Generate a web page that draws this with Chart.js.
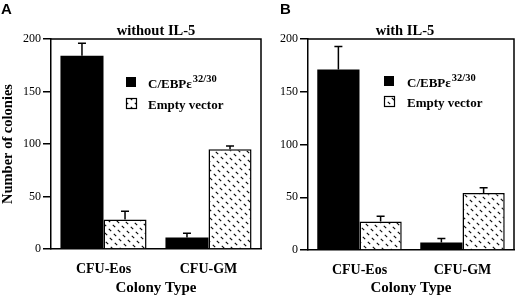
<!DOCTYPE html>
<html>
<head>
<meta charset="utf-8">
<script src="https://cdn.jsdelivr.net/npm/chart.js@4"></script>
<style>
  body { margin: 0; background: #fff; width: 520px; height: 297px; position: relative; overflow: hidden; }
  canvas { position: absolute; top: 0; }
  #chartA { left: 0; }
  #chartB { left: 262px; }
</style>
</head>
<body>
<canvas id="chartA" width="264" height="297"></canvas>
<canvas id="chartB" width="258" height="297"></canvas>
<script>
// data
const categories = ['CFU-Eos', 'CFU-GM'];
const seriesNames = ['C/EBPε32/30', 'Empty vector'];
const yTicks = [0, 50, 100, 150, 200];

// A: without IL-5
const noIL5Cebp = [184, 11];
const noIL5CebpErr = [12, 4];
const noIL5Empty = [28, 95];
const noIL5EmptyErr = [8, 3];

// B: with IL-5
const withIL5Cebp = [171, 7];
const withIL5CebpErr = [22, 4];
const withIL5Empty = [27, 54];
const withIL5EmptyErr = [5, 5];

const serif = "'Liberation Serif', 'Times New Roman', serif";

// short "\" dashes lined up along "/" diagonals
function hatch() {
    const n = 40;
    const c = document.createElement('canvas');
    c.width = n; c.height = n;
    const g = c.getContext('2d');
    g.fillStyle = '#fff';
    g.fillRect(0, 0, n, n);
    g.strokeStyle = '#111';
    g.lineWidth = 1.2;
    g.beginPath();
    for (let m = 0; m < 10; m++) {
        for (let k = 0; k < 4; k++) {
            const x = ((4 * m + 5 * k) % n + n) % n;
            const y = ((-4 * m + 5 * k) % n + n) % n;
            for (const dx of [-n, 0, n]) {
                for (const dy of [-n, 0, n]) {
                    g.moveTo(x + dx - 1.2, y + dy - 1.2);
                    g.lineTo(x + dx + 1.2, y + dy + 1.2);
                }
            }
        }
    }
    g.stroke();
    return g.createPattern(c, 'repeat');
}

// box, error bars, legend, titles
const panelDeco = {
    id: 'panelDeco',
    afterDatasetsDraw(chart) {
        const ctx = chart.ctx;
        const yScale = chart.scales.y;
        ctx.save();
        ctx.strokeStyle = '#000';
        ctx.lineWidth = 1.5;
        chart.data.datasets.forEach((ds, i) => {
            const meta = chart.getDatasetMeta(i);
            meta.data.forEach((bar, j) => {
                const yEnd = yScale.getPixelForValue(ds.data[j] + ds.err[j]);
                ctx.beginPath();
                ctx.moveTo(bar.x, bar.y);
                ctx.lineTo(bar.x, yEnd);
                ctx.moveTo(bar.x - 4, yEnd);
                ctx.lineTo(bar.x + 4, yEnd);
                ctx.stroke();
            });
        });
        ctx.restore();
    },
    afterDraw(chart, args, opts) {
        const ctx = chart.ctx;
        const a = chart.chartArea;
        ctx.save();
        ctx.strokeStyle = '#000';
        ctx.lineWidth = 1.5;
        ctx.beginPath();
        ctx.moveTo(a.left, a.top);
        ctx.lineTo(a.right, a.top);
        ctx.lineTo(a.right, a.bottom);
        ctx.stroke();

        ctx.fillStyle = '#000';
        ctx.font = "bold 15px 'Liberation Sans', Arial, sans-serif";
        ctx.textAlign = 'left';
        ctx.textBaseline = 'alphabetic';
        ctx.fillText(opts.letter, opts.letterX, 14);

        ctx.font = 'bold 14.5px ' + serif;
        ctx.textAlign = 'center';
        ctx.fillText(opts.title, opts.titleX, 35);

        // legend
        const lx = opts.legX, tx = opts.legTextX;
        ctx.fillRect(lx, opts.legY[0], 10, 10);
        ctx.fillStyle = chart.data.datasets[1].backgroundColor;
        ctx.fillRect(lx, opts.legY[1], 10, 10);
        ctx.lineWidth = 1.2;
        ctx.strokeRect(lx + 0.5, opts.legY[1] + 0.5, 10, 10);
        ctx.fillStyle = '#000';
        ctx.textAlign = 'left';
        ctx.font = 'bold 13px ' + serif;
        const main = seriesNames[0].slice(0, 6);
        ctx.fillText(main, tx, opts.legY[0] + 11);
        const w = ctx.measureText(main).width;
        ctx.font = 'bold 10.5px ' + serif;
        ctx.fillText(seriesNames[0].slice(6), tx + w + 1, opts.legY[0] + 5);
        ctx.font = 'bold 13px ' + serif;
        ctx.fillText(seriesNames[1], tx, opts.legY[1] + 10.5);
        ctx.restore();
    }
};

function makePanel(id, cfg) {
    return new Chart(document.getElementById(id), {
        type: 'bar',
        data: {
            labels: categories,
            datasets: [
                {
                    label: seriesNames[0],
                    data: cfg.cebp,
                    err: cfg.cebpErr,
                    backgroundColor: '#000',
                    borderWidth: 0,
                    categoryPercentage: 0.82,
                    barPercentage: 1.0,
                },
                {
                    label: seriesNames[1],
                    data: cfg.empty,
                    err: cfg.emptyErr,
                    backgroundColor: hatch(),
                    borderColor: '#000',
                    borderWidth: 1.5,
                    categoryPercentage: 0.82,
                    barPercentage: 1.0,
                },
            ],
        },
        options: {
            responsive: false,
            animation: false,
            layout: { padding: { top: 39, right: cfg.padRight, left: 0, bottom: 0 } },
            plugins: {
                legend: { display: false },
                tooltip: { enabled: false },
                panelDeco: cfg.deco,
            },
            scales: {
                x: {
                    grid: { display: false },
                    border: { display: true, color: '#000', width: 1.5 },
                    ticks: { color: '#000', padding: 4, font: { family: serif, size: 14, weight: 'bold' } },
                    title: {
                        display: true,
                        text: 'Colony Type',
                        color: '#000',
                        padding: { top: 0, bottom: 0 },
                        font: { family: serif, size: 15, weight: 'bold' },
                    },
                    afterFit(s) { s.height = cfg.xHeight; },
                },
                y: {
                    min: yTicks[0],
                    max: yTicks[yTicks.length - 1],
                    afterBuildTicks(s) { s.ticks = yTicks.map(v => ({ value: v })); },
                    grid: { drawOnChartArea: false, color: '#000', lineWidth: 1.5, tickLength: 8 },
                    border: { color: '#000', width: 1.5 },
                    ticks: { color: '#000', padding: 2, font: { family: serif, size: 12 } },
                    title: {
                        display: cfg.yTitle,
                        text: 'Number of colonies',
                        color: '#000',
                        padding: { top: 0, bottom: 0 },
                        font: { family: serif, size: 14.5, weight: 'bold' },
                    },
                    afterFit(s) { s.width = cfg.yWidth; },
                },
            },
        },
        plugins: [panelDeco],
    });
}

makePanel('chartA', {
    cebp: noIL5Cebp, cebpErr: noIL5CebpErr,
    empty: noIL5Empty, emptyErr: noIL5EmptyErr,
    padRight: 3, yWidth: 51, xHeight: 48, yTitle: true,
    deco: { letter: 'A', letterX: 1, title: 'without IL-5', titleX: 156, legX: 126, legY: [77, 98], legTextX: 148 },
});

makePanel('chartB', {
    cebp: withIL5Cebp, cebpErr: withIL5CebpErr,
    empty: withIL5Empty, emptyErr: withIL5EmptyErr,
    padRight: 6, yWidth: 46, xHeight: 47, yTitle: false,
    deco: { letter: 'B', letterX: 18, title: 'with IL-5', titleX: 143, legX: 122, legY: [76, 96], legTextX: 145 },
});
</script>
</body>
</html>
